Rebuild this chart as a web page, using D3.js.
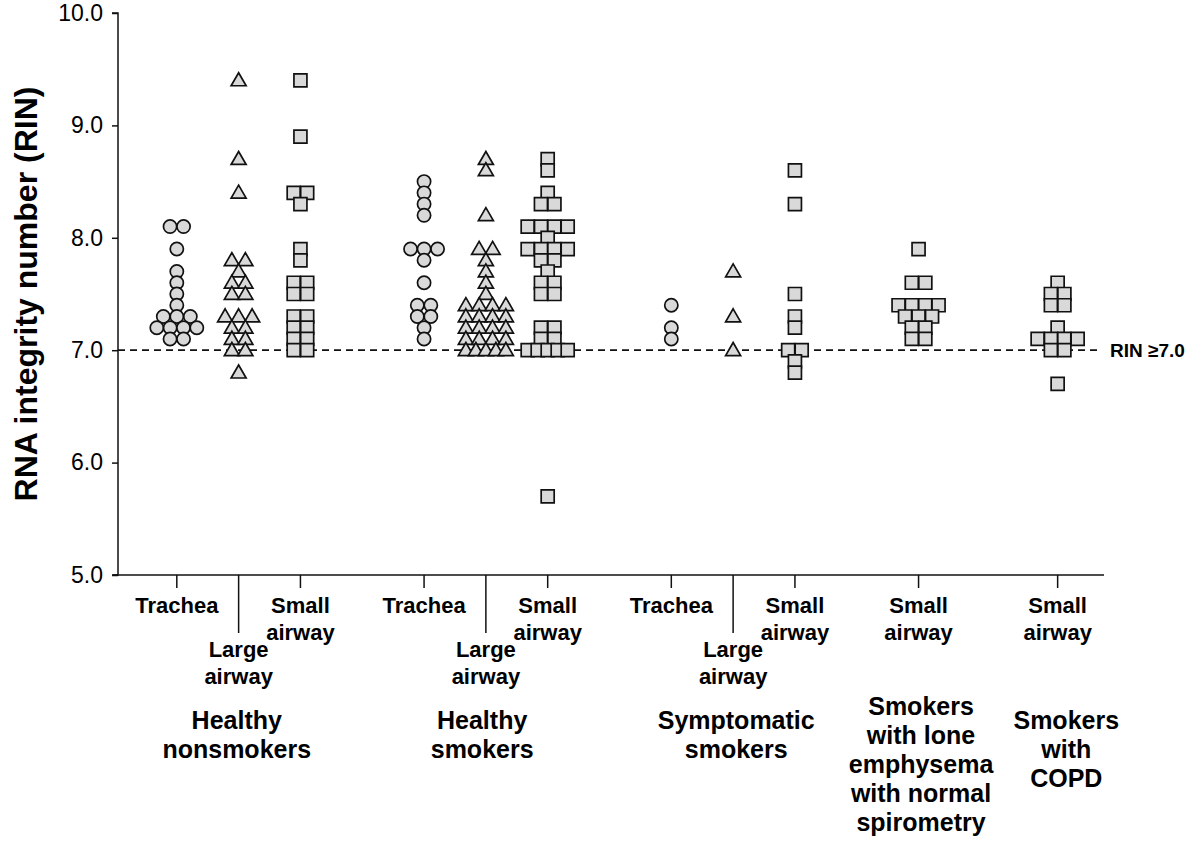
<!DOCTYPE html>
<html>
<head>
<meta charset="utf-8">
<script src="https://cdn.jsdelivr.net/npm/d3@7"></script>
<style>
  body { margin: 0; background: #fff; }
  text { font-family: "Liberation Sans", Arial, Helvetica, sans-serif; fill: #000; }
</style>
</head>
<body>
<svg id="chart" width="1200" height="853"></svg>
<script>
// ---------------- DATA ----------------
const yTitle = "RNA integrity number (RIN)";
const yTickValues = [5.0, 6.0, 7.0, 8.0, 9.0, 10.0];
const thresholdValue = 7.0;
const thresholdLabel = "RIN \u22657.0";

const groupNames = [
  ["Healthy", "nonsmokers"],
  ["Healthy", "smokers"],
  ["Symptomatic", "smokers"],
  ["Smokers", "with lone", "emphysema", "with normal", "spirometry"],
  ["Smokers", "with", "COPD"]
];

const columnKeys   = ["hnT", "hnL", "hnS", "hsT", "hsL", "hsS", "ssT", "ssL", "ssS", "emS", "coS"];
const columnSites  = ["trachea", "large", "small", "trachea", "large", "small", "trachea", "large", "small", "small", "small"];
const siteLabels = {
  trachea: ["Trachea"],
  large: ["Large", "airway"],
  small: ["Small", "airway"]
};

const healthyNonsmokersTrachea = [8.1, 8.1, 7.9, 7.7, 7.6, 7.5, 7.4, 7.3, 7.3, 7.3, 7.2, 7.2, 7.2, 7.2, 7.1, 7.1];
const healthyNonsmokersLarge   = [9.4, 8.7, 8.4, 7.8, 7.8, 7.7, 7.6, 7.6, 7.5, 7.5, 7.3, 7.3, 7.3, 7.2, 7.2, 7.1, 7.1, 7.0, 7.0, 6.8];
const healthyNonsmokersSmall   = [9.4, 8.9, 8.4, 8.4, 8.3, 7.9, 7.8, 7.6, 7.6, 7.5, 7.5, 7.3, 7.3, 7.2, 7.2, 7.1, 7.1, 7.0, 7.0];

const healthySmokersTrachea = [8.5, 8.4, 8.3, 8.2, 7.9, 7.9, 7.9, 7.8, 7.6, 7.4, 7.4, 7.3, 7.3, 7.2, 7.1];
const healthySmokersLarge   = [8.7, 8.6, 8.2, 7.9, 7.9, 7.8, 7.7, 7.6, 7.5,
                               7.4, 7.4, 7.4, 7.4, 7.3, 7.3, 7.3, 7.3, 7.2, 7.2, 7.2, 7.2,
                               7.1, 7.1, 7.1, 7.1, 7.0, 7.0, 7.0, 7.0, 7.0];
const healthySmokersSmall   = [8.7, 8.6, 8.4, 8.3, 8.3, 8.1, 8.1, 8.1, 8.1, 8.0, 7.9, 7.9, 7.9, 7.9,
                               7.8, 7.8, 7.7, 7.6, 7.6, 7.5, 7.5, 7.2, 7.2, 7.1, 7.1,
                               7.0, 7.0, 7.0, 7.0, 7.0, 5.7];

const symptomaticTrachea = [7.4, 7.2, 7.1];
const symptomaticLarge   = [7.7, 7.3, 7.0];
const symptomaticSmall   = [8.6, 8.3, 7.5, 7.3, 7.2, 7.0, 7.0, 6.9, 6.8];

const loneEmphysemaSmall = [7.9, 7.6, 7.6, 7.4, 7.4, 7.4, 7.4, 7.3, 7.3, 7.3, 7.2, 7.2, 7.1, 7.1];
const copdSmall          = [7.6, 7.5, 7.5, 7.4, 7.4, 7.2, 7.1, 7.1, 7.1, 7.1, 7.0, 7.0, 6.7];

const columnValues = [
  healthyNonsmokersTrachea, healthyNonsmokersLarge, healthyNonsmokersSmall,
  healthySmokersTrachea, healthySmokersLarge, healthySmokersSmall,
  symptomaticTrachea, symptomaticLarge, symptomaticSmall,
  loneEmphysemaSmall, copdSmall
];

// ---------------- LAYOUT ----------------
const columnSlot = [1, 2, 3, 5, 6, 7, 9, 10, 11, 13, 15.25];
const groupSlot  = [1.97, 5.94, 10.05, 13.04, 15.39];
const groupFirstBaseline = [729, 729, 729, 715, 729];

const svg = d3.select("#chart");
const axisX = 118, plotTop = 13, plotBottom = 575;

const x = d3.scaleLinear().domain([0, 16]).range([115, 1104]);
const y = d3.scaleLinear().domain([5, 10]).range([plotBottom, plotTop]);

const FONT = '"Liberation Sans", Arial, Helvetica, sans-serif';
const STROKE = "#111";
const FILL = "#d9d9d9";

// Y axis
const yAxis = d3.axisLeft(y).tickValues(yTickValues).tickFormat(d3.format(".1f")).tickSize(6).tickPadding(9);
const gy = svg.append("g").attr("transform", `translate(${axisX},0)`).call(yAxis);
gy.select(".domain").attr("stroke", STROKE).attr("stroke-width", 1.5).attr("d", `M-6,${plotTop}H0V${plotBottom}H-6`);
gy.selectAll(".tick line").attr("stroke", STROKE).attr("stroke-width", 1.5);
gy.selectAll(".tick text").style("font-family", FONT).style("font-size", "23px").attr("fill", "#000");

// Y title
svg.append("text")
  .attr("transform", `translate(37,${(plotTop + plotBottom) / 2}) rotate(-90)`)
  .attr("text-anchor", "middle")
  .style("font-size", "32px").style("font-weight", "bold")
  .text(yTitle);

// X axis line
svg.append("line")
  .attr("x1", 113).attr("x2", x(16)).attr("y1", plotBottom).attr("y2", plotBottom)
  .attr("stroke", STROKE).attr("stroke-width", 1.5);

// Column ticks and labels
columnKeys.forEach((k, i) => {
  const cx = x(columnSlot[i]);
  const site = columnSites[i];
  const longTick = site === "large";
  svg.append("line")
    .attr("x1", cx).attr("x2", cx)
    .attr("y1", plotBottom).attr("y2", plotBottom + (longTick ? 58 : 13))
    .attr("stroke", STROKE).attr("stroke-width", 1.5);
  const base = longTick ? 657 : 613;
  siteLabels[site].forEach((line, j) => {
    svg.append("text")
      .attr("x", cx).attr("y", base + j * 26.5)
      .attr("text-anchor", "middle")
      .style("font-size", "22px").style("font-weight", "bold")
      .text(line);
  });
});

// Group labels
groupNames.forEach((lines, g) => {
  lines.forEach((line, j) => {
    svg.append("text")
      .attr("x", x(groupSlot[g])).attr("y", groupFirstBaseline[g] + j * 29)
      .attr("text-anchor", "middle")
      .style("font-size", "25px").style("font-weight", "bold")
      .text(line);
  });
});

// Threshold line
svg.append("line")
  .attr("x1", axisX).attr("x2", 1100)
  .attr("y1", y(thresholdValue)).attr("y2", y(thresholdValue))
  .attr("stroke", STROKE).attr("stroke-width", 1.8).attr("stroke-dasharray", "7,5");
svg.append("text")
  .attr("x", 1110).attr("y", y(thresholdValue)).attr("dy", "0.35em")
  .style("font-size", "19px").style("font-weight", "bold")
  .text(thresholdLabel);

// Points
const symbolFor = {
  trachea: d3.symbol().type(d3.symbolCircle).size(Math.PI * 6.6 * 6.6),
  large: d3.symbol().type(d3.symbolTriangle).size(Math.sqrt(3) / 4 * 15 * 15),
  small: d3.symbol().type(d3.symbolSquare).size(13 * 13)
};

columnValues.forEach((vals, i) => {
  const cx = x(columnSlot[i]);
  const site = columnSites[i];
  const rows = d3.group(vals, v => v.toFixed(1));
  const pts = [];
  rows.forEach((arr, key) => {
    const n = arr.length;
    const step = n > 1 ? Math.min(13.5, 40 / (n - 1)) : 0;
    arr.forEach((v, j) => pts.push({ v, dx: (j - (n - 1) / 2) * step }));
  });
  svg.append("g").selectAll("path").data(pts).join("path")
    .attr("d", symbolFor[site])
    .attr("transform", d => `translate(${cx + d.dx},${y(d.v) + (site === "large" ? 1 : 0)})`)
    .attr("fill", FILL).attr("stroke", STROKE).attr("stroke-width", 1.7);
});
</script>
</body>
</html>
